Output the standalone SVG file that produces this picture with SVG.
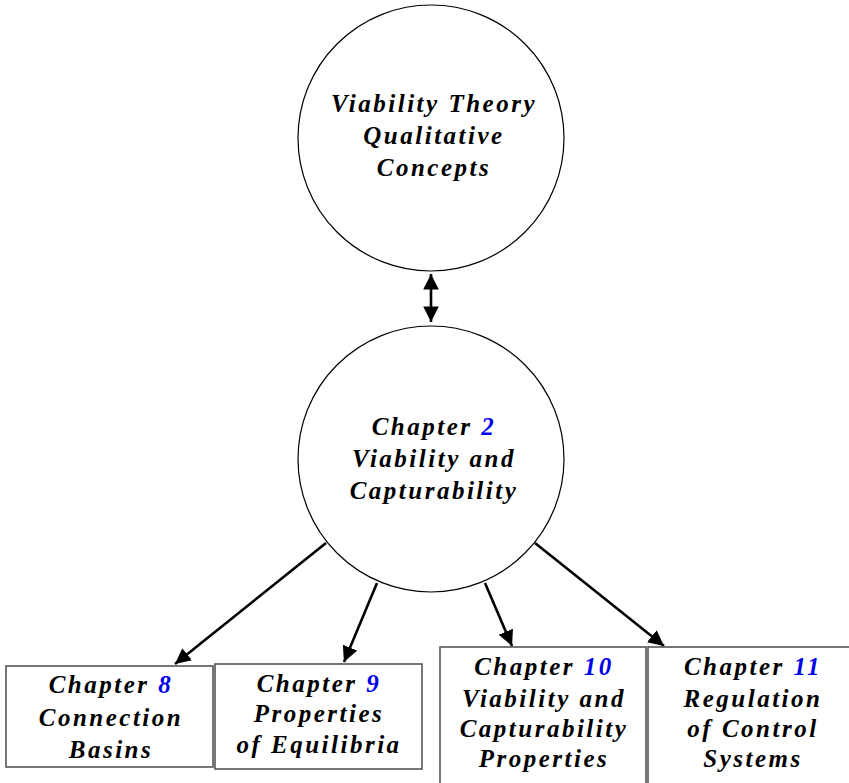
<svg xmlns="http://www.w3.org/2000/svg" width="849" height="783" viewBox="0 0 849 783">
<defs>
<marker id="ah" viewBox="0 0 10 10" refX="10" refY="5" markerWidth="6" markerHeight="6" markerUnits="strokeWidth" orient="auto-start-reverse">
<path d="M0,0 L10,5 L0,10 Z" fill="#000"/>
</marker>
<style>
.c{fill:#fff;stroke:#000;stroke-width:1.2}
.b{fill:#fff;stroke:#555;stroke-width:1.6}
.t{font-family:"Liberation Serif","Times New Roman",serif;font-style:italic;font-weight:bold;font-size:25px;letter-spacing:2.5px;text-anchor:middle;fill:#000}
.n{fill:#0000ee}
.e{fill:none;stroke:#000;stroke-width:2.6}
</style>
</defs>
<rect width="849" height="783" fill="#fff"/>
<g id="connectors">
<line class="e" x1="431" y1="274" x2="431" y2="322" marker-start="url(#ah)" marker-end="url(#ah)"/>
<line class="e" x1="326" y1="543" x2="175" y2="664" marker-end="url(#ah)"/>
<line class="e" x1="377" y1="583" x2="344" y2="662" marker-end="url(#ah)"/>
<line class="e" x1="485" y1="583" x2="512" y2="646" marker-end="url(#ah)"/>
<line class="e" x1="535" y1="543" x2="664" y2="646" marker-end="url(#ah)"/>
</g>
<g id="viability-theory">
<circle class="c" cx="431" cy="138" r="133"/>
<text class="t" x="434" y="112">Viability Theory</text>
<text class="t" x="434" y="144">Qualitative</text>
<text class="t" x="434" y="176">Concepts</text>
</g>
<g id="chapter2">
<circle class="c" cx="431" cy="459" r="133"/>
<text class="t" x="434" y="435">Chapter <tspan class="n">2</tspan></text>
<text class="t" x="434" y="467">Viability and</text>
<text class="t" x="434" y="499">Capturability</text>
</g>
<g id="chapter8">
<rect class="b" x="6" y="666" width="207" height="101"/>
<text class="t" x="111" y="693">Chapter <tspan class="n">8</tspan></text>
<text class="t" x="111" y="726">Connection</text>
<text class="t" x="111" y="758">Basins</text>
</g>
<g id="chapter9">
<rect class="b" x="215" y="664" width="207" height="105"/>
<text class="t" x="319" y="692">Chapter <tspan class="n">9</tspan></text>
<text class="t" x="319" y="722">Properties</text>
<text class="t" x="319" y="753">of Equilibria</text>
</g>
<g id="chapter10">
<rect class="b" x="440" y="647" width="206" height="150"/>
<text class="t" x="544" y="675">Chapter <tspan class="n">10</tspan></text>
<text class="t" x="544" y="707">Viability and</text>
<text class="t" x="544" y="737">Capturability</text>
<text class="t" x="544" y="767">Properties</text>
</g>
<g id="chapter11">
<rect class="b" x="648" y="647" width="206" height="150"/>
<text class="t" x="753" y="675">Chapter <tspan class="n">11</tspan></text>
<text class="t" x="753" y="707">Regulation</text>
<text class="t" x="753" y="737">of Control</text>
<text class="t" x="753" y="767">Systems</text>
</g>
</svg>
